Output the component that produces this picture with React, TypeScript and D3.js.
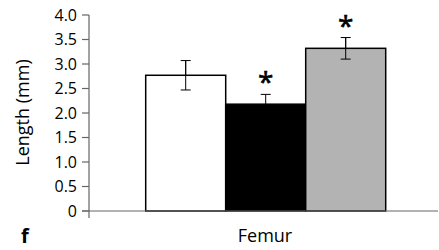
import React from "react";
import * as d3 from "d3";

const categories = ["Control", "Group B", "Group C"];
const values = [2.77, 2.18, 3.32];
const errors = [0.3, 0.2, 0.22];
const significant = [false, true, true];
const fills = ["#ffffff", "#000000", "#b3b3b3"];
const yTicks = [0, 0.5, 1, 1.5, 2, 2.5, 3, 3.5, 4];
const xLabel = "Femur";
const yLabel = "Length (mm)";
const panel = "f";

export default function App() {
  const W = 439, H = 250;
  const axisX = 89;
  const y = d3.scaleLinear().domain([0, 4]).range([211, 15]);
  const x = d3.scaleBand().domain(categories).range([145.7, 385.7]).paddingInner(0).paddingOuter(0);
  const font = "'Open Sans', sans-serif";
  const axisColor = "#666";
  return (
    <svg width={W} height={H} style={{ position: "absolute", left: 0, top: 0 }}>
      <rect width={W} height={H} fill="#fff" />
      {categories.map((c, i) => {
        const x0 = x(c)!;
        const bw = x.bandwidth();
        const cx = x0 + bw / 2;
        const v = values[i];
        const e = errors[i];
        return (
          <g key={c}>
            <rect x={x0} y={y(v)} width={bw} height={y(0) - y(v)} fill={fills[i]} stroke="#000" strokeWidth={1.5} />
            {i !== 1 && (
              <line x1={cx} x2={cx} y1={y(v + e)} y2={y(v - e)} stroke="#000" strokeWidth={1} />
            )}
            <line x1={cx} x2={cx} y1={y(v + e)} y2={y(v)} stroke="#000" strokeWidth={1} />
            <line x1={cx - 5} x2={cx + 5} y1={y(v + e)} y2={y(v + e)} stroke="#000" strokeWidth={1} />
            {i !== 1 && (
              <line x1={cx - 5} x2={cx + 5} y1={y(v - e)} y2={y(v - e)} stroke="#000" strokeWidth={1} />
            )}
            {significant[i] && (
              <text x={cx} y={y(v + e) - 2} textAnchor="middle" fontFamily={font} fontSize={28} fill="#000" stroke="#000" strokeWidth={0.6}>*</text>
            )}
          </g>
        );
      })}
      <line x1={axisX} x2={axisX} y1={15} y2={218} stroke={axisColor} strokeWidth={1.2} />
      <line x1={82} x2={438} y1={y(0)} y2={y(0)} stroke={axisColor} strokeWidth={1.2} />
      {yTicks.map((t) => (
        <g key={t}>
          <line x1={82} x2={axisX} y1={y(t)} y2={y(t)} stroke={axisColor} strokeWidth={1.2} />
          <text x={77} y={y(t)} dy="0.36em" textAnchor="end" fontFamily={font} fontSize={16} fill="#000">
            {t === 0 ? "0" : d3.format(".1f")(t)}
          </text>
        </g>
      ))}
      <text transform={`translate(29,112.5) rotate(-90)`} textAnchor="middle" fontFamily={font} fontSize={18} fill="#000">{yLabel}</text>
      <text x={265} y={241.5} textAnchor="middle" fontFamily={font} fontSize={18} fill="#000">{xLabel}</text>
      <text x={21} y={242.5} fontFamily={font} fontSize={20} fontWeight="bold" fill="#000">{panel}</text>
    </svg>
  );
}
